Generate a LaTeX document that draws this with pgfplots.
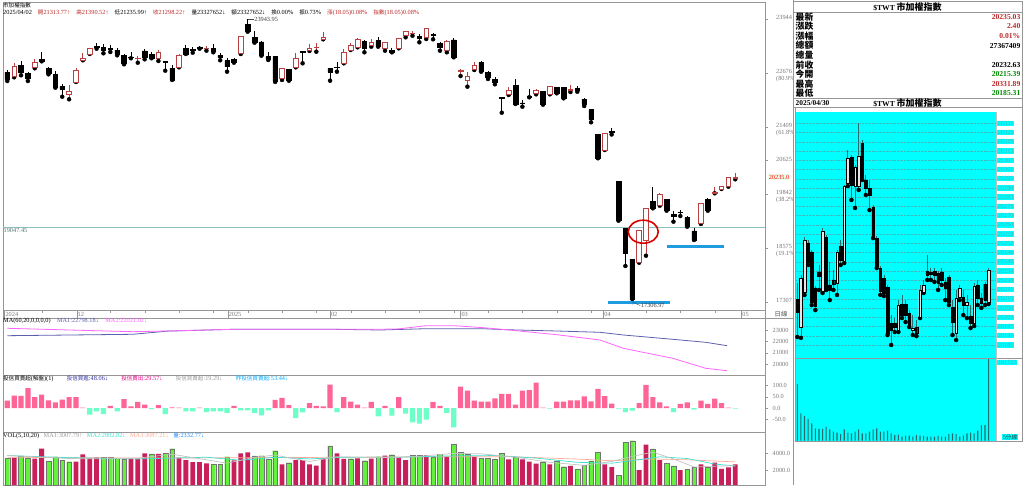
\documentclass[border=0pt]{standalone}
\usepackage{pgfplots}
\pgfplotsset{compat=1.18}
\usepackage{pgfplotstable}
\usepackage{fontspec}
\setmainfont{Liberation Serif}
\newfontfamily\cjk[Scale=0.88]{Noto Sans CJK TC}
\newfontfamily\cjkb{Noto Sans CJK TC}
\newcommand\C[1]{{\cjk #1}}
\newcommand\tk{\fontsize{6.3}{7}\selectfont}
\definecolor{hred}{RGB}{190,40,40}
\definecolor{cup}{RGB}{185,65,65}
\definecolor{hpink}{RGB}{255,100,150}
\definecolor{hmint}{RGB}{110,255,200}
\definecolor{vred}{RGB}{200,30,90}
\definecolor{vgreen}{RGB}{100,240,60}
\definecolor{maA}{RGB}{95,95,175}
\definecolor{maB}{RGB}{255,100,255}
\definecolor{vmA}{RGB}{195,195,195}
\definecolor{vmB}{RGB}{60,225,210}
\definecolor{vmC}{RGB}{255,170,150}
\definecolor{vq}{RGB}{30,140,255}
\definecolor{hb1}{RGB}{50,50,160}
\definecolor{hb4}{RGB}{0,170,255}
\definecolor{annblue}{RGB}{30,155,225}
\definecolor{tline}{RGB}{140,190,190}
\definecolor{scyan}{RGB}{0,255,255}
\definecolor{wickc}{RGB}{40,110,110}
\definecolor{gridc}{RGB}{60,190,190}
\definecolor{dgreen}{RGB}{0,140,0}
\definecolor{axg}{RGB}{150,150,150}
\definecolor{lblg}{RGB}{120,120,120}
\definecolor{ilab}{RGB}{60,185,195}

% ---------- daily candles ----------
\pgfplotstableread{
i o h l c
2 22607 22919 22577 22842
5 22802 23006 22788 22919
10 22185 22396 22061 22256
11 22467 22788 22467 22732
12 22976 23140 22976 23023
13 23123 23271 23123 23248
20 23020 23076 22919 23026
23 23013 23217 22959 23170
26 22811 23123 22811 23100
30 23255 23311 23201 23260
35 23140 23545 23123 23545
41 22561 22788 22514 22788
43 22811 23154 22811 23013
45 23201 23351 23194 23264
46 23268 23374 23177 23274
47 23468 23639 23468 23522
50 22905 23241 22905 23163
51 23217 23374 23217 23318
52 23280 23492 23280 23468
54 23334 23468 23295 23388
56 23248 23412 23201 23388
58 23257 23492 23257 23492
59 23569 23663 23515 23663
60 23605 23670 23552 23610
62 23515 23733 23475 23733
65 23217 23452 23163 23412
67 22725 22765 22607 22748
68 22514 22708 22357 22591
69 22765 22943 22748 22865
74 22178 22342 22162 22279
78 22202 22310 22178 22279
80 22178 22373 22178 22357
83 22272 22396 22232 22296
88 20872 21280 20872 21264
93 18229 18980 18229 18980
94 18762 19505 18393 19505
96 19582 19871 19566 19840
102 19153 19622 19137 19622
104 19857 20012 19857 19880
105 19958 20028 19958 20012
106 20012 20240 20012 20232.63
107 20215.39 20331.89 20185.31 20235.03
}\dup
\pgfplotstableread{
i o h l c
1 22694 22748 22490 22537
3 22858 22959 22624 22685
4 22661 22708 22490 22561
6 22990 23170 22952 22952
7 22779 22818 22647 22671
8 22654 22732 22333 22333
9 22366 22413 22122 22296
14 23304 23374 23248 23271
15 23271 23351 23140 23201
16 23252 23327 23170 23245
17 23217 23271 23093 23123
18 23093 23116 22882 22896
19 23050 23170 23023 23043
21 23194 23248 22999 23037
22 23123 23170 23023 23023
24 22945 22945 22732 22940
25 22788 22858 22514 22514
27 23248 23327 23123 23123
28 23226 23295 23154 23222
29 23271 23311 23248 23248
31 23257 23351 23163 23177
32 23093 23140 22976 23037
33 22966 23023 22708 22826
34 23006 23023 22919 22919
36 23820 23943.95 23646 23646
37 23515 23663 23388 23398
38 23405 23428 23083 23083
39 23060 23177 22983 23006
40 23060 23060 22467 22483
42 22765 22765 22497 22497
44 23187 23201 22905 23154
48 22788 22788 22497 22694
49 22813 22936 22708 22809
53 23412 23452 23163 23248
55 23435 23529 23295 23295
57 23201 23257 23163 23163
61 23545 23592 23398 23498
63 23578 23623 23468 23574
64 23365 23398 23201 23280
66 23452 23492 23046 23046
70 22929 22959 22708 22708
71 22694 22732 22537 22577
72 22537 22577 22413 22460
73 22108 22108 21747 22075
75 22389 22537 21951 21951
76 21980 22045 21888 21975
77 22125 22296 22108 22120
79 22239 22263 21934 21951
81 22342 22357 22202 22202
82 22342 22357 22084 22084
84 22319 22373 22239 22263
85 22068 22084 21904 21951
86 21826 21841 21522 21599
87 21240 21240 20678 20678
89 21313.77 21390.52 21235.99 21298.22
90 20129 20129 19214 19214
91 19036 19036 18152 18450
92 18316 18316 17306.97 17371
95 19660 19997 19505 19505
97 19716 19716 19449 19449
98 19364 19449 19191 19324
99 19412 19465 19324 19408
100 19294 19324 19074 19074
101 18973 19036 18762 18762
103 19716 19740 19449 19449
}\ddown
% ---------- daily volume ----------
\pgfplotstableread{
i v
2 3449
5 3332
6 4508
11 2979
12 3841
13 3371
14 3489
19 3332
20 3332
21 3959
23 3881
26 3449
27 3175
28 2940
29 2940
30 2783
34 3136
35 3959
36 4077
41 2666
43 3175
44 3175
45 2666
46 2509
47 3371
49 3959
50 3293
52 3371
54 3332
56 3685
58 3489
59 3175
62 3763
65 3567
69 3567
74 3253
76 3253
77 2979
78 2744
80 2666
83 2470
88 2666
89 2333
93 1999
94 4978
96 3175
99 1999
102 2666
104 2862
105 2117
106 2313
107 2666
}\vR
\pgfplotstableread{
i v
1 3371
3 3646
4 3449
7 3058
8 3567
9 3175
10 2979
15 3489
16 3489
17 3371
18 3253
22 3881
24 3959
25 4508
31 2666
32 2666
33 3567
37 3646
38 3685
39 3253
40 4273
42 2862
48 4822
51 3332
53 3097
55 3567
57 3802
60 3724
61 3724
63 3567
64 3841
66 5018
67 4077
68 3881
70 3410
71 3410
72 3293
73 3959
75 3489
79 2979
81 3097
82 2391
84 2117
85 2587
86 3058
87 4077
90 1411
91 5253
92 5449
95 4469
97 2783
98 2470
100 2077
101 2352
103 2352
}\vG
% ---------- investment trust net buy ----------
\pgfplotstableread{
i v
1 33
2 55
3 54
4 89
5 48
6 60
7 34
8 25
9 37
10 48
11 48
12 1.5
16 10
18 40
19 7.5
20 27
21 15
23 13
25 3
26 1.5
29 1.5
34 9
40 36
41 45
42 13
45 22
46 10
47 7.5
48 104
50 49
51 28
52 15
53 1.5
54 27
56 10
58 49
63 27
64 10
67 95
68 77
69 33
70 28
71 28
72 43
73 63
74 63
75 15
76 77
77 80
78 113
79 1.5
81 28
82 28
83 34
84 34
85 52
86 30
87 85
88 53.44
89 19.29
93 22
94 103
95 49
96 25
97 7
99 18
100 25
102 33
103 18
104 42
105 22
106 1.5
}\hpos
\pgfplotstableread{
i v
13 -30
14 -15
15 -27
17 -15
22 -5
24 -27
27 -15
28 -15
30 -18
31 -15
32 -15
33 -22
35 -10
36 -10
37 -22
38 -33
39 -10
43 -45
44 -19
49 -18
55 -37
57 -34
59 -25
60 -64
61 -70
62 -52
65 -22
66 -86
80 -3
90 -3
91 -18
92 -12
98 -18
101 -7
107 -3
}\hneg
% ---------- intraday 5-min candles ----------
\pgfplotstableread{
i o h l c
2 20197.2 20231.6 20190.0 20229.6
3 20220.3 20256.7 20218.4 20254.7
8 20221.0 20262.7 20219.7 20260.7
12 20226.3 20248.1 20218.4 20246.8
14 20240.8 20291.1 20239.5 20290.4
15 20292.4 20314.2 20290.4 20308.9
17 20290.4 20304.3 20275.9 20303.0
18 20290.4 20331.89 20287.8 20310.3
29 20195.2 20215.0 20193.9 20211.7
33 20195.2 20205.1 20191.9 20196.5
35 20203.8 20225.0 20203.1 20221.7
36 20220.3 20228.3 20219.7 20225.0
45 20193.2 20221.7 20188.6 20216.4
46 20217.0 20225.0 20215.0 20223.0
48 20211.7 20218.4 20203.1 20213.7
50 20199.8 20226.3 20197.9 20224.3
54 20213.7 20236.2 20212.4 20235.03
}\iup
\pgfplotstableread{
i o h l c
1 20215.4 20226.3 20190.6 20207.1
4 20252.7 20254.7 20238.2 20240.2
5 20246.8 20248.1 20211.7 20213.7
6 20223.0 20224.3 20208.4 20211.1
7 20233.6 20238.2 20221.7 20230.9
9 20256.7 20258.0 20221.7 20223.0
10 20225.0 20240.2 20215.0 20221.7
11 20228.3 20234.9 20221.7 20225.6
13 20250.7 20254.7 20238.2 20241.5
16 20309.6 20310.9 20281.2 20291.1
19 20318.8 20320.8 20294.4 20296.4
20 20294.4 20297.7 20284.5 20289.1
21 20289.1 20294.4 20274.5 20284.5
22 20276.5 20277.9 20256.0 20256.7
23 20256.0 20257.4 20236.2 20237.5
24 20236.2 20237.5 20218.4 20221.0
25 20229.6 20231.6 20217.7 20219.7
26 20223.6 20225.0 20191.9 20193.2
27 20199.8 20205.1 20185.31 20195.2
28 20199.8 20203.1 20193.9 20197.2
30 20212.4 20218.4 20203.1 20205.1
31 20212.4 20215.0 20200.5 20205.1
32 20206.4 20208.4 20197.2 20198.5
34 20197.2 20201.8 20191.2 20193.2
37 20234.2 20244.8 20228.3 20231.6
38 20233.6 20236.2 20228.3 20232.2
39 20234.2 20236.2 20227.0 20231.6
40 20232.9 20234.2 20221.7 20226.3
41 20233.6 20236.2 20225.0 20228.3
42 20227.0 20229.6 20215.0 20223.0
43 20230.3 20231.6 20211.7 20213.7
44 20210.4 20215.0 20191.9 20200.5
47 20217.0 20221.7 20205.1 20211.7
49 20204.5 20211.7 20196.5 20199.8
51 20225.0 20228.3 20211.7 20216.4
52 20216.4 20219.7 20209.8 20213.1
53 20225.6 20227.0 20211.7 20215.0
}\idown
\pgfplotstableread{
i v
1 110600
2 53600
3 48400
4 42500
5 34000
6 24200
7 22900
8 22900
9 27500
10 22200
11 17700
12 15700
13 13100
14 22200
15 15700
16 14400
17 17700
18 22200
19 14400
20 14400
21 17700
22 22200
23 24200
24 17700
25 17700
26 19600
27 14400
28 11100
29 11800
30 7800
31 9800
32 9800
33 7800
34 11100
35 9800
36 9200
37 7800
38 7800
39 7800
40 9200
41 7800
42 7800
43 13100
44 14400
45 13100
46 7800
47 10500
48 14400
49 15700
50 14400
51 19600
52 30700
53 30700
54 161723
}\ivol

\pgfplotsset{
  dailyx/.style={scale only axis, anchor=south west, width=762pt, xmin=0.374, xmax=111.33,
    scaled x ticks=false, scaled y ticks=false},
  dcandle/.style={dailyx, at={(3pt,175pt)}, height=308pt, ymin=17120.1, ymax=24342.7},
  rlab/.style={axis line style={draw=axg}, xtick=\empty, ytick pos=right, yticklabel pos=right,
    tick align=outside, major tick length=2.5pt, tick style={draw=axg},
    yticklabel style={font=\tk, text=lblg, anchor=west, inner sep=0pt, xshift=5pt}},
  iday/.style={scale only axis, anchor=south west, width=200pt, xmin=0.64, xmax=56.05,
    scaled x ticks=false, scaled y ticks=false},
  % intraday prices are drawn relative to 20000 (kept within TeX's dimension range)
  icandle/.style={iday, at={(796pt,127pt)}, height=246.3pt, ymin=176.71, ymax=339.56},
  wick/.style={only marks, mark=none, error bars/.cd, y dir=plus, y explicit, error mark=none,
    error bar style={draw=#1, line width=0.8pt}},
}

\begin{document}
\begin{tikzpicture}[x=1pt,y=1pt]
\useasboundingbox (0,0) rectangle (1024,485);
\fill[white] (0,0) rectangle (1024,485);

% ===== daily candle panel: frame, reference line, wicks =====
\begin{axis}[dcandle, rlab, clip=false,
  ytick={17307,18575,19842,20625,21409,22676,23944},
  yticklabels={17307,{18575\\(19.1\%)},{19842\\(38.2\%)},20625,{21409\\(61.8\%)},{22676\\(80.9\%)},23944},
  yticklabel style={align=left, anchor=north west, yshift=3.5pt, xshift=3.5pt}]
\addplot[tline, line width=0.8pt] coordinates {(0.374,19047.45) (111.33,19047.45)};
\addplot[wick=black] table[x=i, y=l, y error plus expr=\thisrow{h}-\thisrow{l}] {\ddown};
\addplot[wick=cup] table[x=i, y=l, y error plus expr=\thisrow{h}-\thisrow{l}] {\dup};
\node[anchor=north west, font=\tk, text=tline!60!black, inner sep=0.5pt] at (axis cs:0.374,19047.45) {19047.45};
\node[anchor=west, font=\tk, text=red, fill=green!8, inner sep=0.6pt] at (axis cs:111.33,20235) [xshift=3pt] {20235.0};
\end{axis}
% up bodies
\begin{axis}[dcandle, hide axis, ybar stacked, bar width=4.6pt]
\addplot[draw=none, fill=none] table[x=i, y=o] {\dup};
\addplot[draw=cup, fill=white, line width=0.7pt] table[x=i, y expr=\thisrow{c}-\thisrow{o}] {\dup};
\end{axis}
% down bodies
\begin{axis}[dcandle, hide axis, ybar stacked, bar width=4.6pt]
\addplot[draw=none, fill=none] table[x=i, y=c] {\ddown};
\addplot[draw=black, fill=black, line width=0.5pt] table[x=i, y expr=\thisrow{o}-\thisrow{c}] {\ddown};
\end{axis}
% annotations
\begin{axis}[dcandle, hide axis, clip=false]
\addplot[annblue, line width=2.6pt] coordinates {(88.4,17300) (97.5,17300)};
\addplot[annblue, line width=2.6pt] coordinates {(97.0,18604) (105.3,18604)};
\draw[red!85!black, line width=1.6pt] (axis cs:93.6,18956) ellipse [x radius=15pt, y radius=11.5pt];
\draw[black!70, line width=0.4pt] (axis cs:36,23943.95) -- ++(6pt,0pt) node[anchor=west, inner sep=0.5pt, font=\tk, text=black!75] {23943.95};
\draw[black!70, line width=0.4pt] (axis cs:92,17306.97) -- ++(8pt,-3.5pt) node[anchor=west, inner sep=0.5pt, font=\tk, text=black!75] {17306.97};
\end{axis}

% ===== date row =====
\begin{axis}[dailyx, at={(3pt,167pt)}, height=8pt, ymin=0, ymax=1,
  axis line style={draw=axg}, ytick=\empty,
  xtick={0.6,11.1,33.1,48,67,87.8,107.9}, xticklabels={,,,,,,},
  minor xtick={6,16,21,26,31,36,41,46,51,56,61,66,71,76,81,86,94,99,104},
  xtick pos=right, tick align=inside, major tick length=8pt, minor tick length=2.5pt, tick style={draw=axg}]
\node[anchor=west, font=\tk, text=lblg, inner sep=0.8pt] at (axis cs:0.6,0.45) {2024};
\node[anchor=west, font=\tk, text=lblg, inner sep=0.8pt] at (axis cs:11.1,0.45) {12};
\node[anchor=west, font=\tk, text=lblg, inner sep=0.8pt] at (axis cs:33.1,0.45) {2025};
\node[anchor=west, font=\tk, text=lblg, inner sep=0.8pt] at (axis cs:48,0.45) {02};
\node[anchor=west, font=\tk, text=lblg, inner sep=0.8pt] at (axis cs:67,0.45) {03};
\node[anchor=west, font=\tk, text=lblg, inner sep=0.8pt] at (axis cs:87.8,0.45) {04};
\node[anchor=west, font=\tk, text=lblg, inner sep=0.8pt] at (axis cs:107.9,0.45) {05};
\end{axis}
\draw[axg] (765,167) -- (793,167);
\node[font=\tk, text=black!70] at (781,171) {{\cjkb 日線}};

% ===== MA panel =====
\begin{axis}[dailyx, rlab, at={(3pt,110pt)}, height=57pt, ymin=19053, ymax=24052,
  ytick={20000,21000,22000,23000}, yticklabels={20000,21000,22000,23000}]
\addplot[maA, line width=0.8pt] coordinates {(1,22500) (10,22560) (19.3,22623) (24.3,22900) (33.9,23061) (48.4,23061) (55.3,23000) (62,23114) (70.3,23114) (73.6,23026) (81,22912) (87.3,22798) (90.7,22562) (97.9,22184) (102.7,21921) (105.8,21623)};
\addplot[maB, line width=0.8pt] coordinates {(1,23149) (10,23000) (19.3,22851) (24.3,22912) (33.9,23061) (48.4,23061) (55.3,23061) (58,23100) (62,23377) (66,23380) (70.3,23202) (73.6,23026) (81,22588) (87.3,22123) (90.7,21395) (97.9,20518) (102.7,19641) (105.8,19431)};
\end{axis}

% ===== investment trust panel =====
\begin{axis}[dailyx, rlab, at={(3pt,53pt)}, height=57pt, ymin=-107, ymax=147.2,
  ytick={-50,0,50,100}, yticklabels={-50.0,0.0,50.0,100.0}]
\addplot[ybar, bar width=5.2pt, bar shift=0pt, draw=none, fill=hpink] table[x=i, y=v] {\hpos};
\addplot[ybar, bar width=5.2pt, bar shift=0pt, draw=none, fill=hmint] table[x=i, y=v] {\hneg};
\end{axis}

% ===== volume panel =====
\begin{axis}[dailyx, rlab, at={(3pt,0pt)}, height=53pt, ymin=235, ymax=6468,
  ytick={2000,4000}, yticklabels={2000.0,4000.0}]
\addplot[ybar, bar width=4.8pt, bar shift=0pt, draw=none, fill=vred] table[x=i, y=v] {\vR};
\addplot[ybar, bar width=4.8pt, bar shift=0pt, draw=black!55, line width=0.3pt, fill=vgreen] table[x=i, y=v] {\vG};
\addplot[vmC, line width=0.7pt] coordinates {(1,3500) (20,3400) (40,3450) (60,3550) (75,3550) (85,3250) (89,3087) (95,3300) (100,3200) (107,2950)};
\addplot[vmB, line width=0.7pt] coordinates {(1,3700) (10,3450) (20,3300) (30,3500) (35,3150) (40,3500) (45,3300) (50,3500) (58,3500) (65,3650) (72,3700) (78,3400) (84,2900) (89,2803) (92,3100) (96,3550) (100,3350) (104,2700) (107,2470)};
\addplot[vmA, line width=0.7pt] coordinates {(1,3700) (5,3550) (10,3350) (15,3300) (20,3400) (25,3850) (30,3200) (33,2800) (37,3500) (40,3750) (45,3000) (49,3550) (55,3450) (60,3550) (66,3950) (70,3900) (75,3500) (80,2900) (85,2550) (89,3008) (92,3600) (95,4100) (98,3300) (101,2350) (104,2450) (107,2500)};
\end{axis}

% ===== panel headers =====
\begin{scope}[every node/.style={anchor=west, inner sep=0pt, font=\tk}]
\node at (3,480) {\C{市加權指數}};
\node at (3,472) {\makebox[416pt][s]{2025/04/02 \textcolor{hred}{\C{開}21313.77↑} \textcolor{hred}{\C{高}21390.52↑} \C{低}21235.99↑ \textcolor{hred}{\C{收}21298.22↑} \C{量}23327652↓ \C{額}23327652↓ \C{換}0.00\% \C{振}0.73\% \textcolor{hred}{\C{漲}(18.05)0.08\%} \textcolor{hred}{\C{指數}(18.05)0.08\%}}};
\node at (3,164) {\makebox[144pt][s]{MA(60,20,0,0,0,0) \textcolor{maA}{MA1:22798.18↓} \textcolor{maB}{MA2:22021.02↓}}};
\node at (3,106) {\makebox[285pt][s]{\C{投信買賣超}(\C{解盤})(1) \textcolor{hb1}{\C{投信買進}:48.06↓} \textcolor{magenta}{\C{投信賣出}:29.57↓} \textcolor{black!40}{\C{投信買賣超}:19.29↓} \textcolor{hb4}{\C{昨投信買賣超}:53.44↓}}};
\node at (3,49) {\makebox[201pt][s]{VOL(5,10,20) \textcolor{vmA!80!black}{MA1:3007.79↑} \textcolor{vmB}{MA2:2802.82↓} \textcolor{vmC}{MA3:3087.21↓} \textcolor{vq}{\C{量}:2332.77↓}}};
\end{scope}

% ===== right panel =====
\fill[white] (793.5,0) rectangle (1024,485);
\draw[axg] (793,0) -- (793,485);
\draw[axg] (793,483.3) rectangle (1022,386.7);
\draw[axg] (793,472.3) -- (1022,472.3);
\draw[axg] (793,386.7) rectangle (1022,377.7);
\draw[axg] (795,377.7) rectangle (1022,43.5);
\node[anchor=center, inner sep=0] at (907.5,477.8) {\fontsize{7.6}{9}\selectfont\bfseries \$TWT \fontsize{9}{10}\selectfont\cjkb 市加權指數};
\node[anchor=west, inner sep=0] at (795.5,468) {\fontsize{8.8}{10}\selectfont\cjkb\bfseries 最新};
\node[anchor=east, inner sep=0, text=hred] at (1020.5,468) {\fontsize{7.6}{9}\selectfont\bfseries 20235.03};
\node[anchor=west, inner sep=0] at (795.5,458.7) {\fontsize{8.8}{10}\selectfont\cjkb\bfseries 漲跌};
\node[anchor=east, inner sep=0, text=hred] at (1020.5,458.7) {\fontsize{7.6}{9}\selectfont\bfseries 2.40};
\node[anchor=west, inner sep=0] at (795.5,449.2) {\fontsize{8.8}{10}\selectfont\cjkb\bfseries 漲幅};
\node[anchor=east, inner sep=0, text=hred] at (1020.5,449.2) {\fontsize{7.6}{9}\selectfont\bfseries 0.01\%};
\node[anchor=west, inner sep=0] at (795.5,439.4) {\fontsize{8.8}{10}\selectfont\cjkb\bfseries 總額};
\node[anchor=east, inner sep=0, text=black] at (1020.5,439.4) {\fontsize{7.6}{9}\selectfont\bfseries 27367409};
\node[anchor=west, inner sep=0] at (795.5,429.9) {\fontsize{8.8}{10}\selectfont\cjkb\bfseries 總量};
\node[anchor=west, inner sep=0] at (795.5,420.2) {\fontsize{8.8}{10}\selectfont\cjkb\bfseries 前收};
\node[anchor=east, inner sep=0, text=black] at (1020.5,420.2) {\fontsize{7.6}{9}\selectfont\bfseries 20232.63};
\node[anchor=west, inner sep=0] at (795.5,410.7) {\fontsize{8.8}{10}\selectfont\cjkb\bfseries 今開};
\node[anchor=east, inner sep=0, text=dgreen] at (1020.5,410.7) {\fontsize{7.6}{9}\selectfont\bfseries 20215.39};
\node[anchor=west, inner sep=0] at (795.5,401) {\fontsize{8.8}{10}\selectfont\cjkb\bfseries 最高};
\node[anchor=east, inner sep=0, text=hred] at (1020.5,401) {\fontsize{7.6}{9}\selectfont\bfseries 20331.89};
\node[anchor=west, inner sep=0] at (795.5,391.6) {\fontsize{8.8}{10}\selectfont\cjkb\bfseries 最低};
\node[anchor=east, inner sep=0, text=dgreen] at (1020.5,391.6) {\fontsize{7.6}{9}\selectfont\bfseries 20185.31};
\node[anchor=west, inner sep=0] at (795.5,382.2) {\fontsize{7.4}{9}\selectfont\bfseries 2025/04/30};
\node[anchor=center, inner sep=0] at (907.5,382.2) {\fontsize{7.6}{9}\selectfont\bfseries \$TWT \fontsize{9}{10}\selectfont\cjkb 市加權指數};

% intraday candles (prices drawn as offset from 20000)
\begin{axis}[icandle, axis background/.style={fill=scyan}, axis line style={draw=none}, xtick=\empty,
  ytick pos=right, yticklabel pos=right, major tick length=0pt,
  ytick={185.31,191.42,197.53,203.63,209.74,215.85,221.96,228.06,234.17,240.28,246.39,252.49,258.60,264.71,270.82,276.92,283.03,289.14,295.25,301.35,307.46,313.57,319.68,325.78,331.89},
  yticklabels={20185,20191,20197,20203,20209,20215,20221,20228,20234,20240,20246,20252,20258,20264,20270,20276,20283,20289,20295,20301,20307,20313,20319,20325,20331},
  ymajorgrids, major grid style={densely dotted, draw=gridc, line width=0.4pt},
  yticklabel style={font=\tk, text=ilab, fill=scyan, inner sep=0.6pt, anchor=west, xshift=1pt}]
\addplot[wick=wickc] table[x=i, y expr=\thisrow{l}-20000, y error plus expr=\thisrow{h}-\thisrow{l}] {\iup};
\addplot[wick=wickc] table[x=i, y expr=\thisrow{l}-20000, y error plus expr=\thisrow{h}-\thisrow{l}] {\idown};
\end{axis}
\begin{axis}[icandle, hide axis, ybar stacked, bar width=2.6pt]
\addplot[draw=none, fill=none] table[x=i, y expr=\thisrow{o}-20000] {\iup};
\addplot[draw=black, fill=white!90!black, line width=0.4pt] table[x=i, y expr=\thisrow{c}-\thisrow{o}] {\iup};
\end{axis}
\begin{axis}[icandle, hide axis, ybar stacked, bar width=2.6pt]
\addplot[draw=none, fill=none] table[x=i, y expr=\thisrow{c}-20000] {\idown};
\addplot[draw=black, fill=black, line width=0.4pt] table[x=i, y expr=\thisrow{o}-\thisrow{c}] {\idown};
\end{axis}
% intraday volume
\begin{axis}[iday, at={(796pt,44.3pt)}, height=82.7pt, ymin=0, ymax=161723,
  axis background/.style={fill=scyan}, axis line style={draw=none}, xtick=\empty, ytick=\empty]
\addplot[ybar, bar width=1.1pt, bar shift=0pt, draw=none, fill=wickc] table[x=i, y=v] {\ivol};
\end{axis}
\draw[axg] (796,127) -- (1022,127);
\draw[black!25] (996.3,44.3) -- (996.3,373.3);
\node[anchor=west, font=\tk, text=ilab, fill=scyan, inner sep=0.6pt] at (997,122.5) {161723};
\node[anchor=west, font=\tk, text=black!80, fill=scyan, inner sep=0.6pt] at (1002,48) {5{\cjk 分線}};
\end{tikzpicture}
\end{document}
